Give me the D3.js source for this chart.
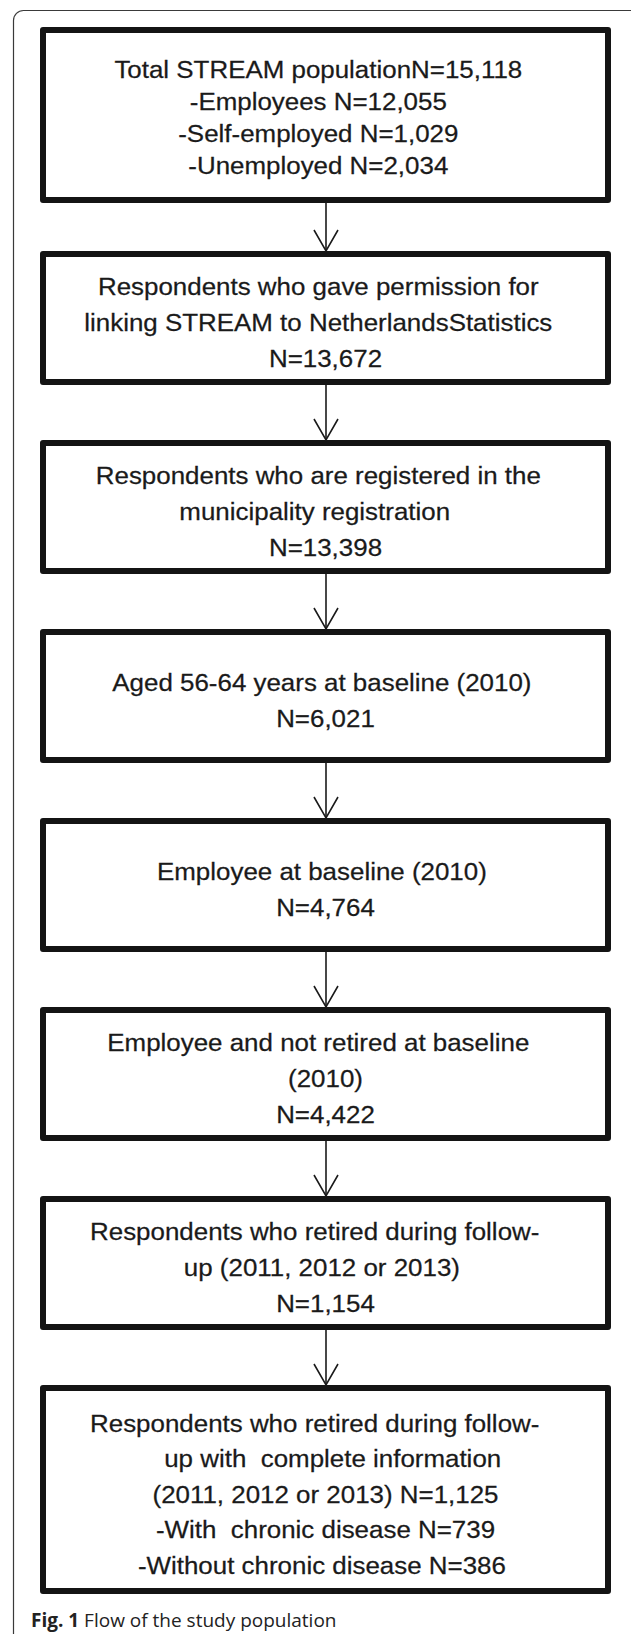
<!DOCTYPE html>
<html>
<head>
<meta charset="utf-8">
<script src="https://cdn.jsdelivr.net/npm/d3@7"></script>
<style>
  html, body { margin: 0; padding: 0; background: #fff; }
  svg { display: block; }
  .box-text { font-family: "Liberation Sans", Arial, sans-serif; font-size: 24px; fill: #1a1a1a; stroke: #1a1a1a; stroke-width: 0.25px; white-space: pre; }
  .caption { font-family: "Open Sans", sans-serif; font-size: 19px; fill: #222; }
</style>
</head>
<body>
<svg id="chart"></svg>
<script>
// text of each step in the flow (trailing spaces kept as in the original layout)
const step1Lines = ["Total STREAM populationN=15,118  ", "-Employees N=12,055  ", "-Self-employed N=1,029  ", "-Unemployed N=2,034  "];
const step2Lines = ["Respondents who gave permission for  ", "linking STREAM to NetherlandsStatistics  ", "N=13,672"];
const step3Lines = ["Respondents who are registered in the  ", "municipality registration   ", "N=13,398"];
const step4Lines = ["Aged 56-64 years at baseline (2010) ", "N=6,021"];
const step5Lines = ["Employee at baseline (2010) ", "N=4,764"];
const step6Lines = ["Employee and not retired at baseline  ", "(2010)", "N=4,422"];
const step7Lines = ["Respondents who retired during follow-   ", "up (2011, 2012 or 2013) ", "N=1,154"];
const step8Lines = ["Respondents who retired during follow-   ", "  up with  complete information", "(2011, 2012 or 2013) N=1,125", "-With  chronic disease N=739", "-Without chronic disease N=386 "];
const captionLabel = "Fig. 1";
const captionText = " Flow of the study population";

const steps = [step1Lines, step2Lines, step3Lines, step4Lines, step5Lines, step6Lines, step7Lines, step8Lines];

const width = 631, height = 1634;
const border = 6;
const boxLeft = 40, boxRight = 611;
const cx = (boxLeft + boxRight) / 2;
const arrowX = 326;

// outer box height depends on how many lines it holds
function boxHeight(n) {
  if (n >= 5) return 209;
  if (n === 4) return 176;
  return 134;
}

// stack the boxes top to bottom
let y = 27;
const boxes = steps.map((lines, i) => {
  const h = boxHeight(lines.length);
  const b = { lines, top: y, bottom: y + h, index: i };
  y = b.bottom + (i === 0 ? 48 : 55);
  return b;
});

const svg = d3.select("#chart").attr("width", width).attr("height", height);

// outer figure frame (runs off right and bottom)
svg.append("rect")
  .attr("x", 13.5).attr("y", 10.5)
  .attr("width", 700).attr("height", 1700)
  .attr("rx", 10)
  .attr("fill", "none")
  .attr("stroke", "#3a3a3a")
  .attr("stroke-width", 1.2);

const g = svg.append("g");

g.selectAll("rect.box")
  .data(boxes)
  .join("rect")
  .attr("class", "box")
  .attr("x", boxLeft + border / 2)
  .attr("y", d => d.top + border / 2)
  .attr("width", boxRight - boxLeft - border)
  .attr("height", d => d.bottom - d.top - border)
  .attr("fill", "#fff")
  .attr("stroke", "#141414")
  .attr("stroke-width", border)
  .attr("stroke-linejoin", "round");

// text lines
boxes.forEach(b => {
  const n = b.lines.length;
  const lineH = n === 4 ? 32 : n === 5 ? 35.5 : 36;
  const mid = (b.top + b.bottom) / 2;
  const off = n === 4 ? 11 : 13;
  g.selectAll(null)
    .data(b.lines)
    .join("text")
    .attr("class", "box-text")
    .attr("xml:space", "preserve")
    .attr("text-anchor", "middle")
    .attr("transform", (d, i) => `translate(${cx},${mid + (i - (n - 1) / 2) * lineH + off}) scale(1.08,1)`)
    .text(d => d);
});

// arrows between boxes
const arrows = d3.pairs(boxes);
const arrowG = g.append("g")
  .attr("fill", "none")
  .attr("stroke", "#1a1a1a")
  .attr("stroke-width", 1.6);

arrowG.selectAll("path.shaft")
  .data(arrows)
  .join("path")
  .attr("class", "shaft")
  .attr("d", ([a, b]) => `M${arrowX},${a.bottom}V${b.top}`);

arrowG.selectAll("path.head")
  .data(arrows)
  .join("path")
  .attr("class", "head")
  .attr("d", ([a, b]) => `M${arrowX - 12},${b.top - 21}L${arrowX},${b.top}L${arrowX + 12},${b.top - 21}`);

// caption
const cap = svg.append("text")
  .attr("class", "caption")
  .attr("x", 31)
  .attr("y", 1627)
  .attr("xml:space", "preserve");
cap.append("tspan").attr("font-weight", "bold").text(captionLabel);
cap.append("tspan").text(captionText);
</script>
</body>
</html>
